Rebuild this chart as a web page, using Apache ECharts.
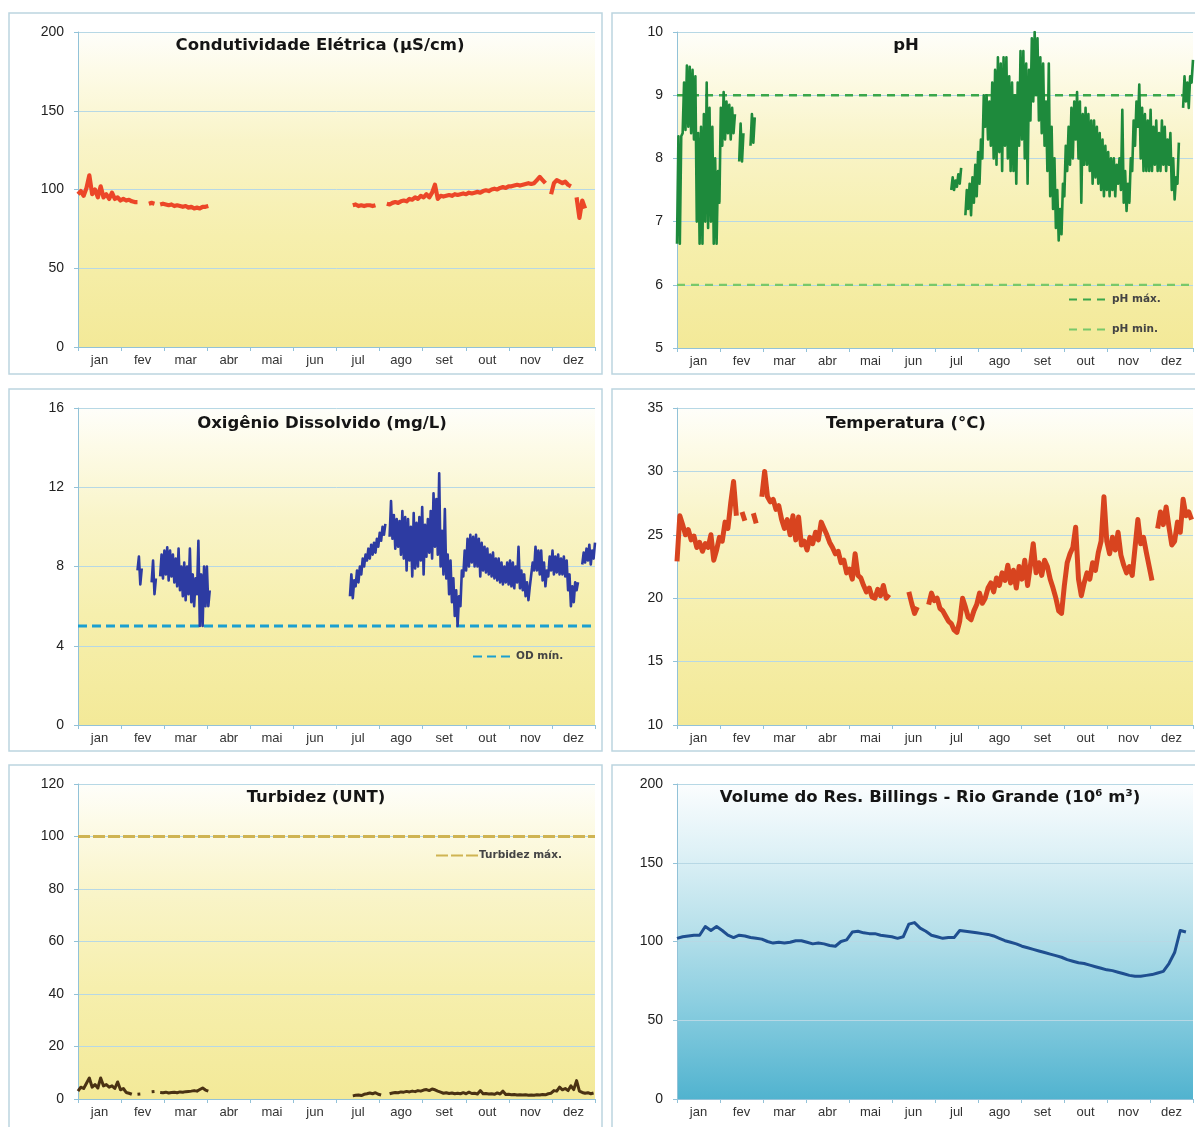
<!DOCTYPE html>
<html>
<head>
<meta charset="utf-8">
<script src="https://cdn.jsdelivr.net/npm/echarts/dist/echarts.min.js"></script>
<style>
html,body{margin:0;padding:0;background:#fff}
#c{width:1195px;height:1127px}
</style>
</head>
<body>
<div id="c"></div>
<script>
// Month labels of the x axes
const MONTHS = ['jan','fev','mar','abr','mai','jun','jul','ago','set','out','nov','dez'];
const DAYS = 365;

// Readings every STEP days; each block starts at a given day of the year; null = no reading
const STEP = 2;

// Condutividade elétrica (µS/cm)
const condStartA = 0;
const condA = [97,99,96,101,109,97,100,95,102,95,97,94,98,94,95,93,94,93,93.5,92.5,92,92,null,null,null,91,91.5,91,null,90.5,91,90.5,90,90.5,89.5,90,89.5,89,89.5,88.5,89,88,88.5,88,89,89,89.5];
const condStartB = 194;
const condB = [90,90.5,89.5,90,89.5,90,90,89.5,90,null,null,null,91,90.5,91.5,92,91.5,92.5,93,92.5,94,93.5,95,94,96,95,97,95,98,103,94,96,95.5,96,96.5,96,97,96.5,97,97.5,97,98,97.5,98,98.5,98,99,99.5,99,100,100.5,100,101,101.5,101,102,102,102.5,103,102.5,103,103.5,104,103.5,104,106,108,106,104,null,97,104,106,105,104,105,103,102,null,95,82,93,88];

// pH: [lowest, highest] reading in each 2-day window
const phStartA = 0;
const phA = [[6.65,8.35],[6.65,8.35],[8.4,9.2],[8.45,9.47],[8.5,9.45],[8.4,9.4],[8.3,9.3],[7.0,8.4],[6.65,8.5],[6.65,8.7],[7.0,9.2],[6.9,8.8],[7.0,8.5],[6.65,8.0],[6.65,7.8],[7.3,8.8],[8.2,9.05],[8.3,8.9],[8.4,8.85],[8.3,8.8],[8.4,8.7],null,[7.95,8.55],[7.95,8.4],null,null,[8.2,8.7],[8.25,8.65]];
const phStartB = 194;
const phB = [[7.5,7.7],[7.5,7.65],[7.55,7.75],[7.6,7.85],null,[7.1,7.5],[7.2,7.6],[7.1,7.7],[7.3,7.9],[7.4,8.1],[7.6,8.3],[8.0,9.0],[8.5,9.0],[8.3,8.9],[8.2,9.2],[8.0,9.4],[7.9,9.6],[8.1,9.5],[7.8,9.6],[8.2,9.6],[8.0,9.3],[7.8,9.2],[7.8,9.0],[7.6,9.2],[8.2,9.7],[8.3,9.7],[8.0,9.5],[7.6,9.4],[8.6,9.9],[8.9,10.0],[9.0,9.9],[8.6,9.6],[8.4,9.5],[8.2,8.9],[7.8,9.5],[7.4,8.5],[7.2,8.0],[6.9,7.5],[6.7,7.2],[6.8,7.6],[7.4,8.2],[7.8,8.5],[7.9,8.8],[8.0,8.9],[8.3,9.05],[8.0,8.9],[7.3,8.7],[7.9,8.8],[7.9,8.7],[7.8,8.6],[7.6,8.6],[7.7,8.5],[7.6,8.4],[7.5,8.3],[7.4,8.2],[7.5,8.1],[7.4,8.0],[7.5,8.0],[7.4,7.9],[7.6,8.0],[7.5,8.77],[7.3,7.8],[7.17,7.6],[7.3,8.0],[7.8,8.6],[8.2,8.9],[8.5,9.17],[8.0,8.8],[7.8,8.7],[7.8,8.6],[7.8,8.77],[7.8,8.5],[7.9,8.6],[7.8,8.4],[7.8,8.6],[7.9,8.5],[7.8,8.3],[7.9,8.4],[7.5,8.0],[7.35,7.7],[7.6,8.25],null,[8.8,9.3],[8.9,9.2],[8.8,9.3],[9.2,9.56]];
const PH_MAX = 9;
const PH_MIN = 6;

// Oxigênio dissolvido (mg/L): [lowest, highest] reading in each 2-day window
const odStartA = 42;
const odA = [[7.8,8.5],[7.1,7.9],null,null,null,[7.2,8.3],[6.6,7.4],null,[7.5,8.6],[7.4,8.8],[7.6,8.97],[7.3,8.8],[7.5,8.6],[7.2,8.4],[7.0,8.9],[6.8,8.0],[6.5,8.2],[6.3,8.0],[6.6,8.9],[6.2,7.6],[6.0,7.4],[6.6,9.3],[5.0,7.6],[5.0,8.0],[6.0,8.0],[6.0,6.8]];
const odStartB = 192;
const odB = [[6.5,7.6],[6.4,7.3],[7.0,7.8],[7.2,8.0],[7.6,8.4],[8.0,8.6],[8.3,8.9],[8.4,9.1],[8.6,9.2],[8.7,9.4],[9.0,9.7],[9.3,10.0],[9.6,10.15],null,[9.5,11.3],[9.4,10.6],[8.9,10.4],[9.0,10.3],[8.6,10.8],[8.4,10.5],[7.8,10.4],[8.3,10.0],[7.5,10.7],[7.9,10.2],[8.0,10.5],[8.3,11.0],[7.6,10.1],[8.5,10.4],[8.7,10.8],[8.4,11.7],[9.0,11.4],[8.6,12.7],[8.0,9.8],[7.6,10.9],[7.4,8.6],[6.6,8.3],[6.2,7.4],[5.5,6.8],[5.0,6.5],[6.0,7.8],[7.5,8.8],[7.8,9.4],[8.0,9.6],[8.2,9.5],[8.0,9.6],[8.0,9.4],[7.5,9.2],[7.8,9.0],[7.7,8.9],[7.6,8.6],[7.5,8.7],[7.4,8.4],[7.3,8.4],[7.2,8.2],[7.1,8.0],[7.2,8.2],[7.1,8.3],[7.0,8.2],[6.9,8.0],[7.2,9.0],[6.9,7.8],[6.8,7.6],[6.5,7.2],[6.3,7.0],[7.0,8.2],[7.8,9.0],[7.8,8.8],[7.6,8.8],[7.3,8.2],[7.0,7.8],[7.5,8.5],[7.8,8.8],[7.6,8.5],[7.7,8.6],[7.6,8.4],[7.6,8.5],[7.5,8.3],[6.8,7.6],[6.0,7.0],[6.2,7.2],[6.8,7.2],null,[8.1,8.7],[8.2,8.9],[8.3,9.1],[8.1,8.8],[8.4,9.2]];
const OD_MIN = 5;

// Temperatura (°C)
const tempStartA = 0;
const tempA = [22.9,26.5,25.8,25.0,25.4,24.6,24.9,24.0,24.4,23.7,24.3,24.0,25.0,23.0,23.8,24.8,24.5,26.0,25.5,27.5,29.2,26.5,null,26.8,26.1,null,null,26.7,25.9,null,28.0,30.0,28.0,27.6,27.8,27.0,27.3,26.2,25.5,26.2,25.0,26.5,24.6,26.4,24.2,24.5,23.8,24.8,24.3,25.2,24.6,26.0,25.5,25.0,24.4,24.0,23.5,23.7,22.8,23.0,22.0,22.3,21.5,23.5,21.8,21.6,21.0,20.5,20.8,20.1,20.0,20.7,20.2,21.0,20.0,20.3];
const tempStartB = 164;
const tempB = [20.5,19.6,18.8,19.3];
const tempStartC = 178;
const tempC = [19.5,20.4,19.8,20.0,19.2,19.0,18.6,18.2,18.0,17.5,17.3,18.2,20.0,19.3,18.5,18.3,19.0,19.5,20.4,19.6,20.0,20.8,21.2,20.5,21.6,21.0,22.0,21.4,22.6,21.2,22.2,20.8,22.5,21.5,23.0,21.0,22.6,24.3,22.0,22.8,21.8,23.0,22.5,21.5,20.8,20.0,19.0,18.8,21.0,22.8,23.5,24.0,25.6,21.5,20.2,21.2,22.0,21.5,22.8,22.2,23.6,24.5,28.0,24.5,23.5,24.8,23.8,25.2,23.4,22.6,22.0,22.5,21.8,24.0,26.2,24.3,24.8,23.6,22.5,21.4,null,25.5,26.8,25.8,27.2,25.6,24.2,24.5,26.0,25.2,27.8,26.5,26.8,26.2];

// Turbidez (UNT)
const turbStartA = 0;
const turbA = [3.0,4.5,4.0,6.0,8.0,4.5,5.5,4.2,8.0,5.0,5.5,4.5,5.0,4.0,6.5,3.5,4.0,2.5,2.2,1.8,null,1.8,1.9,null,null,null,2.8,2.9,null,2.5,2.4,2.6,2.3,2.5,2.6,2.4,2.7,2.6,2.8,2.9,3.0,3.2,3.0,3.6,4.2,3.4,3.0];
const turbStartB = 194;
const turbB = [1.2,1.4,1.5,1.3,1.8,2.0,2.3,2.0,2.4,1.8,1.5,null,null,2.0,2.3,2.5,2.4,2.7,2.6,2.9,2.7,3.0,2.8,3.2,3.0,3.4,3.6,3.2,3.8,3.5,3.0,2.6,2.2,2.4,2.1,2.3,2.0,2.2,2.0,2.4,2.0,2.6,2.1,2.2,1.9,3.2,2.0,2.1,1.9,2.0,1.8,2.3,1.9,3.0,1.7,1.8,1.6,1.7,1.5,1.6,1.5,1.6,1.4,1.5,1.4,1.6,1.5,1.7,1.6,2.0,2.2,3.2,3.0,4.5,3.5,4.0,3.2,5.0,3.6,7.0,3.0,2.5,2.2,2.4,2.0,2.3];
const TURB_MAX = 100;

// Volume do reservatório (10^6 m³), one reading every 4 days
const VOL_STEP = 4;
const volStart = 0;
const vol = [102,103,103.5,104,104,109.5,107,109.5,107,104,102.5,104,103.5,102.5,102,101.5,100,99,99.5,99,99.5,100.5,100.5,99.5,98.5,99,98.5,97.5,97,100,101,106,106.5,105.5,105,105,104,103.5,103,102,103,111,112,108.5,106.5,104,103,102,102.5,102.5,107,106.5,106,105.5,105,104.5,103.5,102,100.5,99.5,98.5,97,96,95,94,93,92,91,90,88.5,87.5,86.5,86,85,84,83,82,81.5,80.5,79.5,78.5,78,78,78.5,79,80,81,86,93,107,106];

// ---------------------------------------------------------------------------
const FONT = '"Liberation Sans", Arial, Helvetica, sans-serif';
const WIDE = '"DejaVu Sans", Verdana, sans-serif';
const AXIS_BLUE = '#92c2d8';
const GRID_BLUE = '#b7d8e5';

// [day, value] points for blocks of single readings
function toPoints(blocks, step) {
  const out = [];
  blocks.forEach(([start, vals], k) => {
    if (k > 0) out.push([start - 1, null]);
    vals.forEach((v, i) => out.push([start + i * step, v]));
  });
  return out;
}
// [day, value] points that swing between the low and high reading of each window
function toSwing(blocks, step) {
  const out = [];
  blocks.forEach(([start, pairs], k) => {
    if (k > 0) out.push([start - 1, null]);
    pairs.forEach((p, i) => {
      const d = start + i * step;
      if (p === null) { out.push([d, null]); return; }
      out.push([d, p[0]]);
      out.push([d + step / 2, p[1]]);
    });
  });
  return out;
}
function flat(v) { return [[0, v], [DAYS, v]]; }

const yellowBg = new echarts.graphic.LinearGradient(0, 0, 0, 1, [
  {offset: 0, color: '#fefefa'},
  {offset: 0.12, color: '#fdfbe8'},
  {offset: 0.35, color: '#f9f4c8'},
  {offset: 0.65, color: '#f6efad'},
  {offset: 1, color: '#f3e998'}
]);
const blueBg = new echarts.graphic.LinearGradient(0, 0, 0, 1, [
  {offset: 0, color: '#fbfdfe'},
  {offset: 0.2, color: '#e0f2f7'},
  {offset: 0.45, color: '#b9e1eb'},
  {offset: 0.7, color: '#8bcee0'},
  {offset: 1, color: '#51b3cf'}
]);

const panels = [
  {left: 78,  top: 32,  width: 517, height: 315, min: 0,  max: 200, interval: 50, bg: yellowBg},
  {left: 677, top: 32,  width: 516, height: 316, min: 5,  max: 10,  interval: 1,  bg: yellowBg},
  {left: 78,  top: 408, width: 517, height: 317, min: 0,  max: 16,  interval: 4,  bg: yellowBg},
  {left: 677, top: 408, width: 516, height: 317, min: 10, max: 35,  interval: 5,  bg: yellowBg},
  {left: 78,  top: 784, width: 517, height: 315, min: 0,  max: 120, interval: 20, bg: yellowBg},
  {left: 677, top: 784, width: 516, height: 315, min: 0,  max: 200, interval: 50, bg: blueBg}
];

const grid = [], xAxis = [], yAxis = [];
panels.forEach((p, i) => {
  grid.push({left: p.left, top: p.top, width: p.width, height: p.height,
    show: true, backgroundColor: p.bg, borderWidth: 0});
  xAxis.push({type: 'category', gridIndex: i, data: MONTHS, boundaryGap: true,
    axisLine: {show: true, lineStyle: {color: AXIS_BLUE, width: 1}},
    axisTick: {show: true, length: 4, interval: 0, lineStyle: {color: AXIS_BLUE}},
    axisLabel: {interval: 0, margin: 7, fontSize: 13, color: '#333', fontFamily: FONT},
    splitLine: {show: false}});
  xAxis.push({type: 'value', gridIndex: i, min: 0, max: DAYS, show: false});
  yAxis.push({type: 'value', gridIndex: i, min: p.min, max: p.max, interval: p.interval,
    axisLine: {show: true, lineStyle: {color: AXIS_BLUE, width: 1}},
    axisTick: {show: true, length: 4, lineStyle: {color: AXIS_BLUE}},
    axisLabel: {margin: 14, fontSize: 14, color: '#222', fontFamily: FONT},
    splitLine: {show: true, lineStyle: {color: GRID_BLUE, width: 1}}});
});

function line(name, panel, data, color, width, extra) {
  return Object.assign({
    name: name, type: 'line', xAxisIndex: panel * 2 + 1, yAxisIndex: panel,
    data: data, showSymbol: false, symbol: 'none', connectNulls: false,
    animation: false, silent: true,
    lineStyle: {color: color, width: width, join: 'round'},
    itemStyle: {color: color}
  }, extra || {});
}
function dashed(name, panel, value, color, width, dash) {
  return line(name, panel, flat(value), color, width,
    {lineStyle: {color: color, width: width, type: dash}});
}

const series = [
  line('Condutividade', 0, toPoints([[condStartA, condA], [condStartB, condB]], STEP), '#ec4628', 4.2),

  dashed('pH máx.', 1, PH_MAX, '#3aa64b', 2.5, [8, 6]),
  dashed('pH min.', 1, PH_MIN, '#78c86a', 2.2, [8, 6]),
  line('pH', 1, toSwing([[phStartA, phA], [phStartB, phB]], STEP), '#1e8a3c', 2.6),

  dashed('OD mín.', 2, OD_MIN, '#1b9fd0', 3, [9, 5]),
  line('OD', 2, toSwing([[odStartA, odA], [odStartB, odB]], STEP), '#2d3ba2', 2.6),

  line('Temperatura', 3, toPoints([[tempStartA, tempA], [tempStartB, tempB], [tempStartC, tempC]], STEP), '#d8441f', 5),

  dashed('Turbidez máx.', 4, TURB_MAX, '#cfb452', 3, [12, 3]),
  line('Turbidez', 4, toPoints([[turbStartA, turbA], [turbStartB, turbB]], STEP), '#4a3213', 3),

  line('Volume', 5, toPoints([[volStart, vol]], VOL_STEP), '#1f4f90', 3)
];

function legend(names, left, top) {
  return {data: names, left: left, top: top, orient: 'vertical', itemWidth: 42, itemHeight: 12,
    itemGap: 19, selectedMode: false, padding: 0,
    itemStyle: {opacity: 0},
    textStyle: {fontSize: 10.5, fontWeight: 'bold', color: '#444', fontFamily: WIDE, padding: [0, 0, 0, -4]}};
}
const legends = [
  legend(['pH máx.', 'pH min.'], 1068, 294),
  legend(['OD mín.'], 472, 651),
  legend(['Turbidez máx.'], 435, 850)
];

function title(text, x, y) {
  return {type: 'text', x: x, y: y, silent: true, z: 100,
    style: {text: text, font: 'bold 16.5px ' + WIDE, fill: '#151515',
      align: 'center', verticalAlign: 'middle', textAlign: 'center', textVerticalAlign: 'middle'}};
}
function frame(x, y, w, h) {
  return {type: 'rect', silent: true, z: -10,
    shape: {x: x, y: y, width: w, height: h},
    style: {fill: null, stroke: '#bcd5e0', lineWidth: 1.5}};
}

const graphic = [
  frame(9, 13, 593, 361), frame(612, 13, 600, 361),
  frame(9, 389, 593, 362), frame(612, 389, 600, 362),
  frame(9, 765, 593, 380), frame(612, 765, 600, 380),
  title('Condutividade Elétrica (µS/cm)', 320, 46),
  title('pH', 906, 46),
  title('Oxigênio Dissolvido (mg/L)', 322, 424),
  title('Temperatura (°C)', 906, 424),
  title('Turbidez (UNT)', 316, 798),
  title('Volume do Res. Billings - Rio Grande (10⁶ m³)', 930, 798)
];

const chart = echarts.init(document.getElementById('c'));
chart.setOption({
  animation: false,
  backgroundColor: '#ffffff',
  grid: grid, xAxis: xAxis, yAxis: yAxis,
  legend: legends,
  series: series,
  graphic: graphic
});
</script>
</body>
</html>
